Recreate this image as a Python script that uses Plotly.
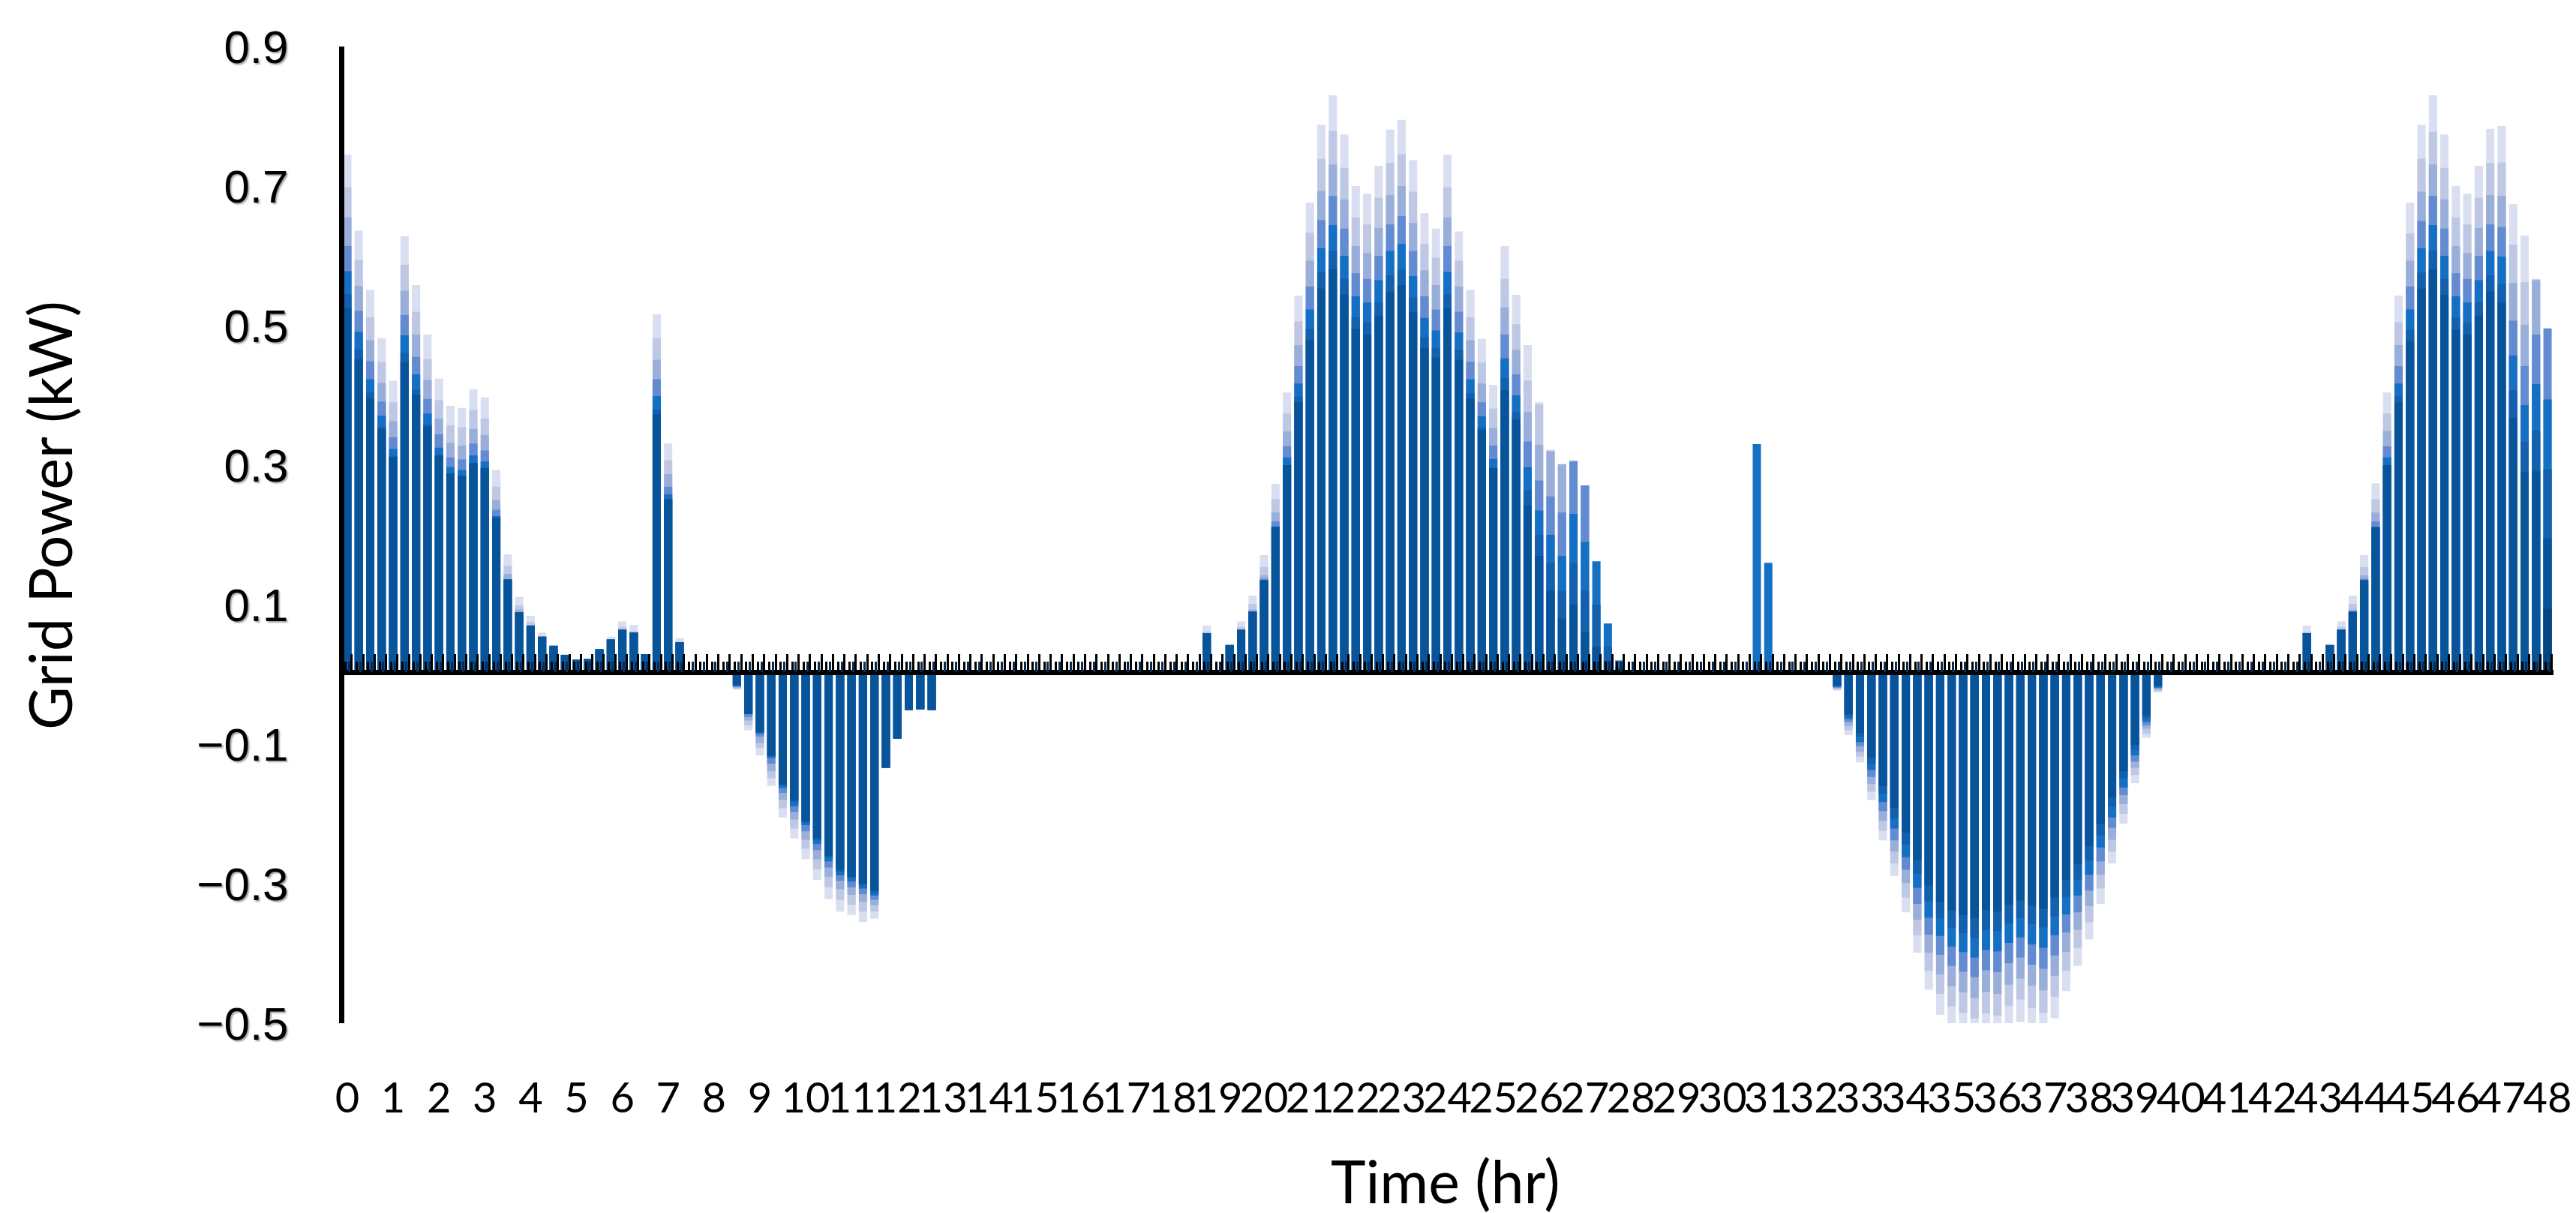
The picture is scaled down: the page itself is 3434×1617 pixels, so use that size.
import plotly.graph_objects as go

# ---------------- data ----------------
N = 193  # 15-minute steps, 0 .. 48 h
time_hr = [i / 4 for i in range(N)]
hour_ticks = list(range(49))
hour_labels = [str(h) for h in hour_ticks]
y_ticks = [-0.5, -0.3, -0.1, 0.1, 0.3, 0.5, 0.7, 0.9]

# lightest (drawn behind) -> darkest (drawn in front); one line per hour (4 steps)
s1 = [
    .745, .636, .551, .482,  .421, .628, .558, .487,  .424, .385, .382, .409,  .397, .293, .172, .111,
    .084, .060, .041, .028,  .021, .022, .036, .054,  .076, .071, .029, .516,  .331, .052, 0, 0,
    0, 0, -.022, -.080,  -.116, -.160, -.205, -.235,  -.265, -.295, -.322, -.340,  -.345, -.355, -.350, -.134,
    -.092, -.051, -.050, -.051,  0, 0, 0, 0,  0, 0, 0, 0,  0, 0, 0, 0,
    0, 0, 0, 0,  0, 0, 0, 0,  0, 0, 0, .070,  .005, .044, .076, .113,
    .171, .273, .404, .543,  .676, .788, .830, .774,  .700, .689, .729, .781,  .795, .737, .661, .639,
    .745, .635, .551, .481,  .415, .614, .544, .472,  .390, .322, .302, .307,  .271, 0, 0, 0,
    0, 0, 0, 0,  0, 0, 0, 0,  0, 0, 0, 0,  0, 0, 0, 0,
    0, 0, -.023, -.087,  -.126, -.180, -.238, -.289,  -.341, -.399, -.452, -.488,  -.520, -.540, -.550, -.530,
    -.535, -.515, -.498, -.525,  -.530, -.493, -.454, -.418,  -.380, -.329, -.271, -.214,  -.156, -.091, -.026, 0,
    0, 0, 0, 0,  0, 0, 0, 0,  0, 0, 0, .070,  .005, .044, .076, .113,
    .171, .274, .404, .543,  .676, .788, .830, .774,  .700, .689, .729, .782,  .786, .674, .629, .567,
    0,
]
s2 = [
    .698, .594, .512, .448,  .390, .587, .520, .452,  .393, .357, .354, .379,  .367, .269, .156, .099,
    .075, .054, .041, .028,  .021, .022, .036, .050,  .068, .062, .029, .482,  .307, .047, 0, 0,
    0, 0, -.021, -.073,  -.106, -.149, -.192, -.221,  -.250, -.279, -.305, -.323,  -.330, -.340, -.340, -.134,
    -.092, -.051, -.050, -.051,  0, 0, 0, 0,  0, 0, 0, 0,  0, 0, 0, 0,
    0, 0, 0, 0,  0, 0, 0, 0,  0, 0, 0, .061,  .005, .042, .068, .101,
    .154, .251, .374, .506,  .633, .739, .779, .726,  .655, .645, .683, .733,  .746, .692, .617, .597,
    .698, .593, .512, .447,  .381, .567, .502, .421,  .387, .321, .301, .306,  .271, 0, 0, 0,
    0, 0, 0, 0,  0, 0, 0, 0,  0, 0, 0, 0,  0, 0, 0, 0,
    0, 0, -.022, -.080,  -.118, -.168, -.224, -.271,  -.320, -.374, -.425, -.458,  -.476, -.485, -.493, -.486,
    -.489, -.475, -.466, -.478,  -.485, -.462, -.425, -.392,  -.355, -.307, -.254, -.200,  -.144, -.085, -.024, 0,
    0, 0, 0, 0,  0, 0, 0, 0,  0, 0, 0, .061,  .005, .042, .068, .101,
    .154, .251, .374, .505,  .632, .739, .778, .726,  .655, .645, .683, .733,  .734, .616, .562, .566,
    0,
]
s3 = [
    .655, .557, .479, .418,  .363, .550, .487, .422,  .367, .332, .328, .352,  .343, .250, .144, .093,
    .070, .054, .041, .028,  .021, .022, .036, .050,  .064, .060, .029, .451,  .287, .046, 0, 0,
    0, 0, -.019, -.066,  -.098, -.139, -.180, -.208,  -.237, -.265, -.290, -.308,  -.316, -.326, -.331, -.134,
    -.092, -.051, -.050, -.051,  0, 0, 0, 0,  0, 0, 0, 0,  0, 0, 0, 0,
    0, 0, 0, 0,  0, 0, 0, 0,  0, 0, 0, .059,  .005, .042, .064, .093,
    .142, .232, .348, .472,  .593, .693, .731, .681,  .614, .604, .640, .687,  .700, .647, .579, .558,
    .655, .556, .479, .417,  .353, .526, .465, .376,  .329, .320, .301, .306,  .271, 0, 0, 0,
    0, 0, 0, 0,  0, 0, 0, 0,  0, 0, 0, 0,  0, 0, 0, 0,
    0, 0, -.020, -.074,  -.111, -.157, -.210, -.254,  -.299, -.352, -.399, -.430,  -.447, -.456, -.464, -.455,
    -.458, -.445, -.436, -.446,  -.453, -.432, -.398, -.366,  -.332, -.287, -.237, -.186,  -.134, -.078, -.022, 0,
    0, 0, 0, 0,  0, 0, 0, 0,  0, 0, 0, .059,  .005, .042, .064, .093,
    .142, .232, .349, .472,  .593, .692, .731, .681,  .614, .604, .640, .687,  .686, .561, .501, .565,
    0,
]
s4 = [
    .614, .521, .449, .391,  .340, .515, .455, .395,  .344, .311, .308, .331,  .321, .236, .136, .089,
    .070, .054, .041, .028,  .021, .022, .036, .050,  .064, .060, .029, .423,  .269, .046, 0, 0,
    0, 0, -.018, -.061,  -.089, -.128, -.170, -.197,  -.225, -.252, -.277, -.296,  -.305, -.315, -.323, -.134,
    -.092, -.051, -.050, -.051,  0, 0, 0, 0,  0, 0, 0, 0,  0, 0, 0, 0,
    0, 0, 0, 0,  0, 0, 0, 0,  0, 0, 0, .059,  .005, .042, .064, .090,
    .137, .219, .327, .442,  .556, .651, .686, .639,  .575, .567, .600, .645,  .657, .607, .542, .523,
    .614, .520, .448, .390,  .328, .487, .430, .334,  .278, .255, .232, .305,  .271, 0, 0, 0,
    0, 0, 0, 0,  0, 0, 0, 0,  0, 0, 0, 0,  0, 0, 0, 0,
    0, 0, -.019, -.068,  -.103, -.147, -.196, -.238,  -.280, -.329, -.373, -.402,  -.418, -.426, -.434, -.424,
    -.427, -.414, -.406, -.416,  -.422, -.403, -.370, -.341,  -.310, -.268, -.220, -.173,  -.125, -.073, -.020, 0,
    0, 0, 0, 0,  0, 0, 0, 0,  0, 0, 0, .059,  .005, .042, .064, .090,
    .137, .219, .327, .442,  .556, .650, .686, .639,  .575, .567, .600, .645,  .641, .507, .442, .487,
    .496,
]
s5 = [
    .578, .491, .423, .371,  .323, .486, .430, .374,  .325, .297, .293, .314,  .305, .227, .136, .089,
    .070, .054, .041, .028,  .021, .022, .036, .050,  .064, .060, .029, .399,  .258, .046, 0, 0,
    0, 0, -.017, -.057,  -.085, -.120, -.163, -.189,  -.216, -.243, -.268, -.288,  -.297, -.307, -.317, -.134,
    -.092, -.051, -.050, -.051,  0, 0, 0, 0,  0, 0, 0, 0,  0, 0, 0, 0,
    0, 0, 0, 0,  0, 0, 0, 0,  0, 0, 0, .059,  .005, .042, .064, .090,
    .135, .212, .311, .417,  .523, .611, .644, .600,  .542, .533, .565, .607,  .617, .571, .511, .493,
    .577, .490, .423, .370,  .309, .453, .400, .297,  .235, .200, .170, .230,  .190, .162, .073, .020,
    0, 0, 0, 0,  0, 0, 0, 0,  0, 0, 0, .330,  .160, 0, 0, 0,
    0, 0, -.018, -.064,  -.097, -.137, -.183, -.221,  -.262, -.306, -.349, -.375,  -.390, -.398, -.406, -.395,
    -.397, -.385, -.377, -.387,  -.392, -.374, -.344, -.317,  -.287, -.248, -.205, -.162,  -.116, -.068, -.019, 0,
    0, 0, 0, 0,  0, 0, 0, 0,  0, 0, 0, .059,  .005, .042, .064, .090,
    .135, .211, .311, .417,  .523, .611, .644, .600,  .542, .533, .565, .607,  .599, .457, .386, .416,
    .394,
]
s6 = [
    .545, .466, .404, .355,  .312, .461, .409, .358,  .314, .288, .285, .303,  .296, .225, .136, .089,
    .070, .054, .041, .028,  .021, .022, .036, .050,  .064, .060, .029, .380,  .251, .046, 0, 0,
    0, 0, -.016, -.057,  -.083, -.117, -.159, -.183,  -.212, -.238, -.262, -.283,  -.292, -.302, -.313, -.134,
    -.092, -.051, -.050, -.051,  0, 0, 0, 0,  0, 0, 0, 0,  0, 0, 0, 0,
    0, 0, 0, 0,  0, 0, 0, 0,  0, 0, 0, .059,  .005, .042, .064, .090,
    .135, .211, .300, .398,  .495, .576, .607, .567,  .512, .504, .533, .572,  .581, .540, .484, .468,
    .545, .465, .403, .354,  .296, .425, .376, .264,  .200, .160, .120, .160,  .120, .100, .040, .010,
    0, 0, 0, 0,  0, 0, 0, 0,  0, 0, 0, 0,  0, 0, 0, 0,
    0, 0, -.017, -.060,  -.089, -.128, -.171, -.207,  -.244, -.286, -.325, -.350,  -.363, -.371, -.378, -.366,
    -.368, -.357, -.349, -.358,  -.363, -.347, -.319, -.294,  -.267, -.231, -.190, -.149,  -.108, -.063, -.017, 0,
    0, 0, 0, 0,  0, 0, 0, 0,  0, 0, 0, .059,  .005, .042, .064, .090,
    .135, .211, .300, .399,  .494, .576, .607, .567,  .512, .504, .533, .572,  .560, .407, .333, .349,
    .294,
]
s7 = [
    .525, .452, .395, .352,  .312, .447, .401, .355,  .314, .288, .285, .303,  .296, .225, .136, .089,
    .070, .054, .041, .028,  .021, .022, .036, .050,  .064, .060, .029, .373,  .251, .046, 0, 0,
    0, 0, -.015, -.057,  -.083, -.117, -.158, -.180,  -.210, -.235, -.260, -.280,  -.290, -.300, -.310, -.134,
    -.092, -.051, -.050, -.051,  0, 0, 0, 0,  0, 0, 0, 0,  0, 0, 0, 0,
    0, 0, 0, 0,  0, 0, 0, 0,  0, 0, 0, .059,  .005, .042, .064, .090,
    .135, .211, .300, .390,  .479, .553, .581, .544,  .495, .487, .514, .548,  .558, .519, .468, .454,
    .525, .451, .395, .351,  .296, .407, .365, .243,  .170, .120, .080, .100,  .060, .040, .020, .010,
    0, 0, 0, 0,  0, 0, 0, 0,  0, 0, 0, 0,  0, 0, 0, 0,
    0, 0, -.0155, -.057,  -.084, -.119, -.160, -.192,  -.227, -.266, -.302, -.326,  -.339, -.345, -.350, -.338,
    -.340, -.330, -.324, -.331,  -.336, -.320, -.295, -.272,  -.246, -.214, -.176, -.139,  -.101, -.059, -.016, 0,
    0, 0, 0, 0,  0, 0, 0, 0,  0, 0, 0, .059,  .005, .042, .064, .090,
    .135, .211, .300, .390,  .478, .553, .581, .544,  .494, .487, .514, .549,  .533, .368, .290, .291,
    .195,
]
s8 = [0] * 192 + [.094]

series = [s1, s2, s3, s4, s5, s6, s7, s8]
colors = ["#D9DFF0", "#BEC8E5", "#99AFDA", "#628BD1", "#1470C4", "#1260AE", "#07549A", "#06457F"]

# ---------------- figure ----------------
fig = go.Figure()
for vals, col in zip(series, colors):
    assert len(vals) == N, len(vals)
    fig.add_trace(go.Bar(x=time_hr, y=vals, width=0.18,
                         marker=dict(color=col, line=dict(width=0)),
                         showlegend=False, hoverinfo="skip"))

W, H = 3434, 1617
L, R, T, B = 451, 38, 54, 261
pw, ph = W - L - R, H - T - B
ZPOS = 0.3594  # paper position of the y = 0 axis band

comb_common = dict(overlaying="x", matches="x", anchor="free", position=ZPOS,
                   showgrid=False, zeroline=False, showticklabels=False,
                   tickmode="linear", dtick=0.25, ticks="inside")

fig.update_layout(
    width=W, height=H, barmode="overlay",
    margin=dict(l=L, r=R, t=T, b=B, autoexpand=False),
    plot_bgcolor="white", paper_bgcolor="white", showlegend=False,
    xaxis=dict(range=[-0.065, 48.13], showline=False, showgrid=False, zeroline=False,
               ticks="", tickmode="array", tickvals=hour_ticks, ticktext=hour_labels,
               tickangle=0, ticklabelstandoff=62,
               tickfont=dict(family="Lato", size=56, color="black")),
    # axis band at y = 0 with tall tick marks between bars
    xaxis2=dict(**comb_common, showline=True, linewidth=7, linecolor="black",
                tick0=0.095, ticklen=21, tickwidth=3, tickcolor="black"),
    # short inner tick marks (dense comb of the original)
    xaxis3=dict(**comb_common, showline=False, tick0=-0.045, ticklen=14, tickwidth=2.5,
                tickcolor="black"),
    xaxis4=dict(**comb_common, showline=False, tick0=0.035, ticklen=14, tickwidth=2.5,
                tickcolor="#0B2B55"),
    yaxis=dict(range=[-0.5, 0.9], tickmode="array", tickvals=y_ticks, tickformat=".1f",
               showline=True, linewidth=7, linecolor="black", showgrid=False, zeroline=False,
               ticks="", ticklabelstandoff=55,
               tickfont=dict(family="Liberation Sans, Arial", size=62, color="black",
                             shadow="2px 2px 2px rgba(0,0,0,0.35)")),
    annotations=[
        dict(text="Time (hr)", xref="paper", yref="paper", x=(1919 - L) / pw, y=(H - B - 1565) / ph,
             xanchor="center", yanchor="middle", showarrow=False,
             font=dict(family="Lato", size=79, color="black")),
        dict(text="Grid Power (kW)", xref="paper", yref="paper", x=(57 - L) / pw, y=(H - B - 679) / ph,
             xanchor="center", yanchor="middle", textangle=-90, showarrow=False,
             font=dict(family="Lato", size=79, color="black")),
    ],
)
# invisible helpers so the comb axes are drawn
for ax in ["x2", "x3", "x4"]:
    fig.add_trace(go.Scatter(x=[0], y=[0], xaxis=ax, mode="markers", marker=dict(opacity=0),
                             showlegend=False, hoverinfo="skip"))

fig.write_html("out.html")
